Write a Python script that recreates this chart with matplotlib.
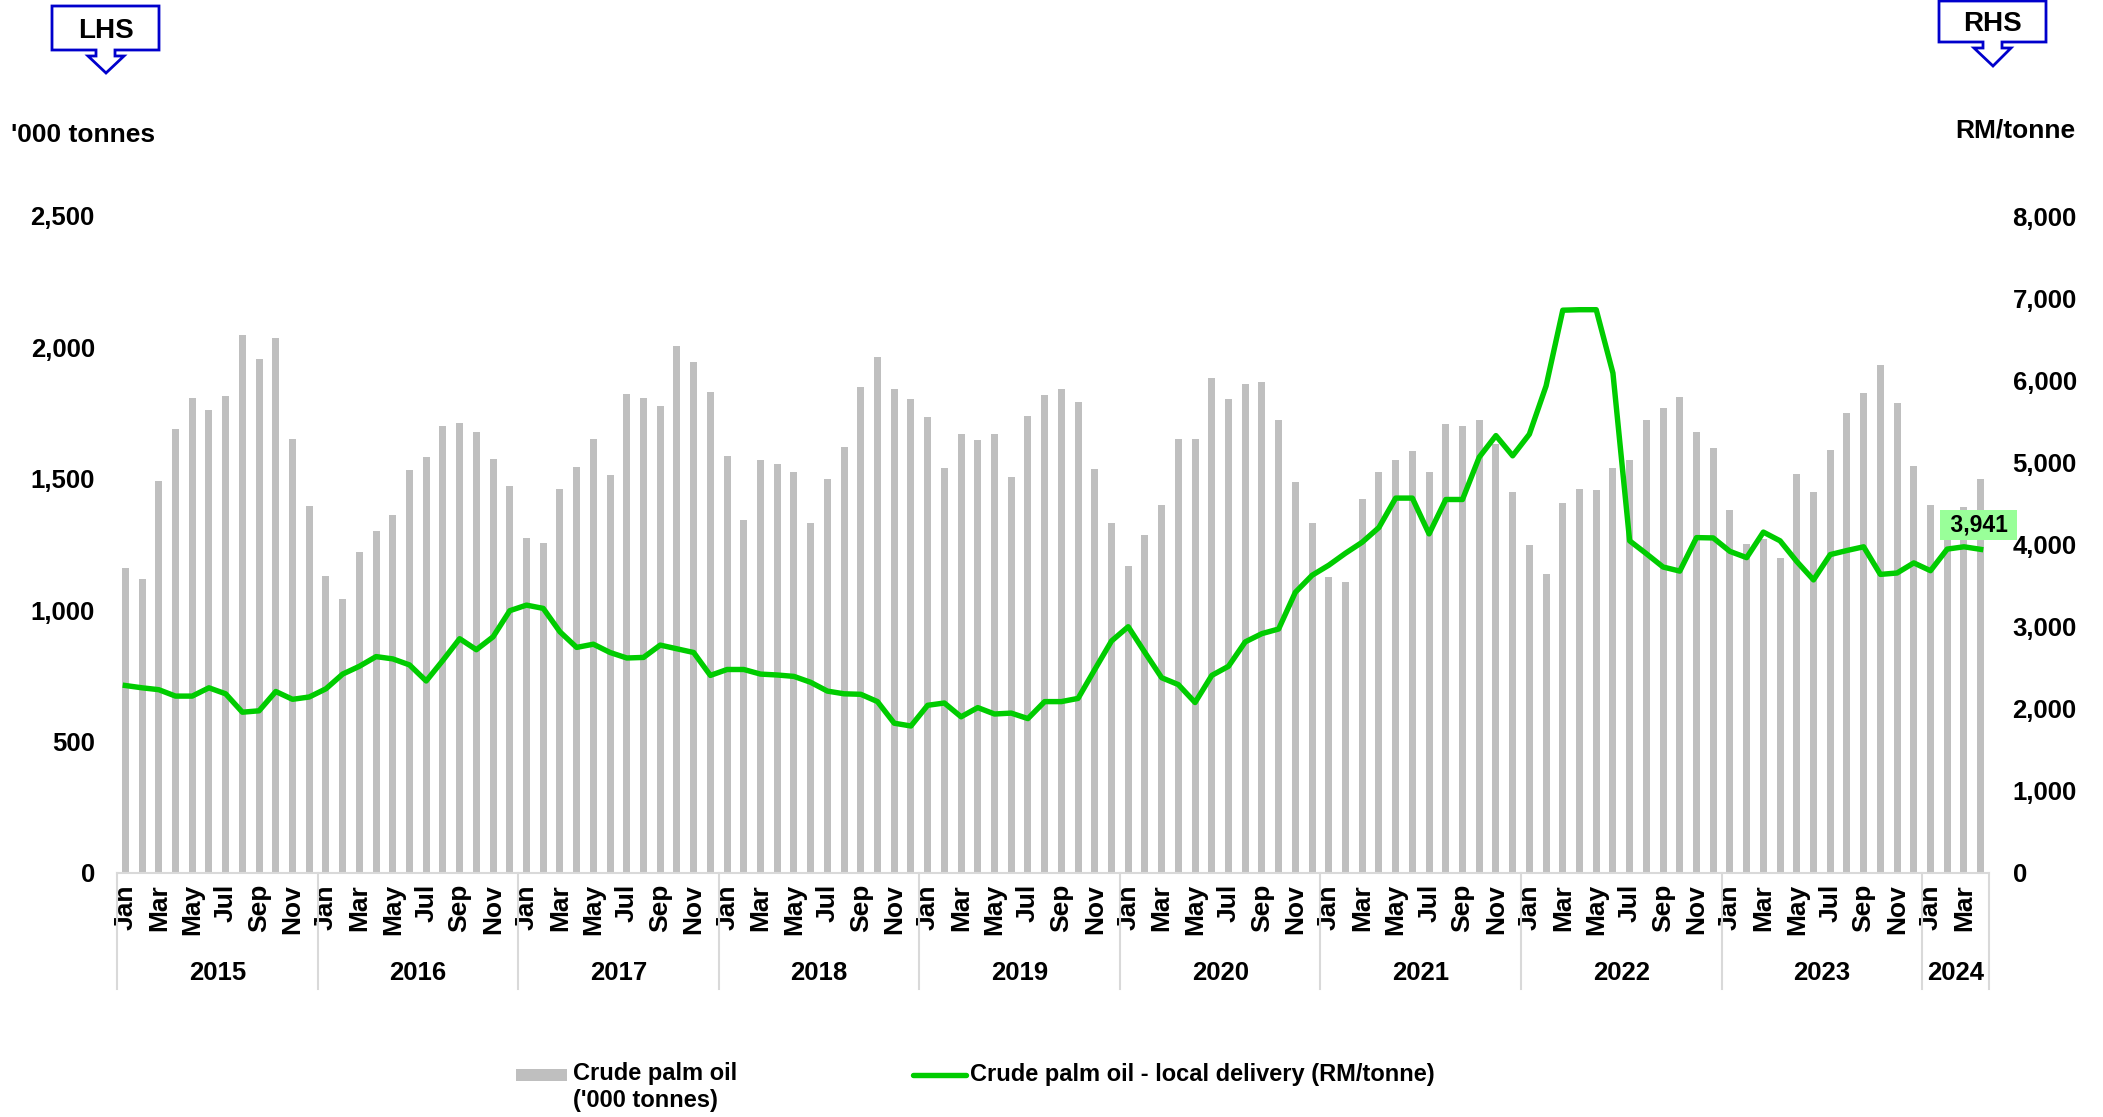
import matplotlib
matplotlib.use("Agg")
import matplotlib.pyplot as plt
import matplotlib.transforms as mtransforms
from matplotlib.patches import Rectangle, Polygon
from matplotlib.lines import Line2D
from matplotlib.ticker import FuncFormatter

plt.rcParams['font.family'] = ['Liberation Sans', 'DejaVu Sans']
plt.rcParams['font.weight'] = 'bold'

# ---------------- data ----------------
years = ['2015', '2016', '2017', '2018', '2019', '2020', '2021', '2022', '2023', '2024']
months = ['Jan', 'Feb', 'Mar', 'Apr', 'May', 'Jun', 'Jul', 'Aug', 'Sep', 'Oct', 'Nov', 'Dec']
months_in_year = [12, 12, 12, 12, 12, 12, 12, 12, 12, 4]

production = [  # '000 tonnes
    1159, 1119, 1493, 1691, 1808, 1763, 1815, 2049, 1957, 2037, 1652, 1397,
    1131, 1044, 1220, 1301, 1364, 1532, 1584, 1700, 1714, 1677, 1574, 1474,
    1276, 1257, 1462, 1546, 1652, 1514, 1824, 1808, 1778, 2007, 1943, 1831,
    1586, 1343, 1572, 1556, 1525, 1332, 1500, 1621, 1850, 1964, 1843, 1805,
    1735, 1542, 1672, 1647, 1672, 1507, 1738, 1820, 1841, 1794, 1537, 1332,
    1170, 1287, 1401, 1651, 1651, 1885, 1805, 1862, 1867, 1724, 1488, 1332,
    1126, 1107, 1422, 1526, 1570, 1605, 1526, 1708, 1701, 1724, 1631, 1448,
    1250, 1137, 1409, 1460, 1458, 1542, 1572, 1724, 1771, 1813, 1679, 1617,
    1380, 1252, 1270, 1198, 1518, 1448, 1609, 1752, 1827, 1934, 1787, 1549,
    1401, 1270, 1394, 1500,
]

price = [  # RM/tonne
    2283, 2255, 2232, 2154, 2154, 2255, 2182, 1958, 1975, 2210, 2115, 2143,
    2243, 2422, 2517, 2635, 2607, 2534, 2338, 2590, 2853, 2719, 2876, 3194,
    3262, 3222, 2937, 2747, 2786, 2685, 2618, 2625, 2775, 2730, 2685, 2406,
    2478, 2478, 2422, 2411, 2394, 2322, 2215, 2182, 2176, 2087, 1824, 1790,
    2042, 2070, 1902, 2014, 1936, 1947, 1880, 2087, 2087, 2126, 2478, 2825,
    2999, 2685, 2378, 2294, 2076, 2406, 2517, 2814, 2915, 2971, 3418, 3625,
    3748, 3894, 4028, 4207, 4565, 4565, 4129, 4548, 4548, 5063, 5326, 5080,
    5343, 5930, 6853, 6859, 6859, 6087, 4045, 3888, 3726, 3676, 4084, 4080,
    3916, 3840, 4151, 4045, 3793, 3569, 3877, 3927, 3972, 3636, 3653, 3776,
    3681, 3944, 3972, 3941,
]

bar_label = 'Crude palm oil\n(\'000 tonnes)'
line_label = 'Crude palm oil - local delivery (RM/tonne)'
last_label = '3,941'

# ---------------- figure ----------------
W, H = 2103, 1117
fig = plt.figure(figsize=(W / 100, H / 100), dpi=100)
ax = fig.add_axes([117 / W, 1 - 873 / H, (1989 - 117) / W, (873 - 216) / H])
ax2 = ax.twinx()

n = len(production)
x = list(range(n))
month_labels = [months[i % 12] for i in range(n)]

BAR_C = '#BFBFBF'
LINE_C = '#00CC00'
GRID_C = '#D9D9D9'
FS = 18.5

ax.bar(x, production, width=0.42, color=BAR_C, zorder=2)
ax2.plot(x, price, color=LINE_C, lw=3.9, solid_joinstyle='round', zorder=3)

ax.set_xlim(-0.5, n - 0.5)
ax.set_ylim(0, 2500)
ax2.set_ylim(0, 8000)
ax.set_yticks([0, 500, 1000, 1500, 2000, 2500])
ax2.set_yticks(list(range(0, 8001, 1000)))
fmt = FuncFormatter(lambda v, p: f'{int(v):,}')
ax.yaxis.set_major_formatter(fmt)
ax2.yaxis.set_major_formatter(fmt)

for a in (ax, ax2):
    for s in a.spines.values():
        s.set_visible(False)
ax.spines['bottom'].set_visible(True)
ax.spines['bottom'].set_color(GRID_C)
ax.spines['bottom'].set_linewidth(1.5)

ax.tick_params(axis='y', length=0, pad=16, labelsize=FS)
ax2.tick_params(axis='y', length=0, pad=17, labelsize=FS)

odd_idx = [i for i in range(n) if i % 2 == 0]
ax.set_xticks(odd_idx)
ax.set_xticklabels([month_labels[i] for i in odd_idx], rotation=90, fontsize=19, fontweight='bold')
ax.tick_params(axis='x', length=0, pad=8)

# year group separators and labels
trans = mtransforms.blended_transform_factory(ax.transData, ax.transAxes)
start = 0
bounds = [-0.5]
for yr, cnt in zip(years, months_in_year):
    end = start + cnt
    ax.text((start + end - 1) / 2, -0.152, yr, transform=trans, ha='center', va='center',
            fontsize=FS, fontweight='bold')
    bounds.append(end - 0.5)
    start = end
for b in bounds:
    ax.plot([b, b], [0, -0.176], transform=trans, color=GRID_C, lw=1.5, clip_on=False)

# last value label
ax2.annotate(' ' + last_label + ' ', xy=(x[-1], price[-1]), xytext=(-2, 24),
             textcoords='offset pixels', ha='center', va='center', fontsize=16.5,
             fontweight='bold',
             bbox=dict(boxstyle='square,pad=0.15', fc='#99FF99', ec='none'), zorder=5)

# axis titles
fig.text(11 / W, 1 - 135 / H, "'000 tonnes", ha='left', va='center', fontsize=19, fontweight='bold')
fig.text(2075 / W, 1 - 130 / H, 'RM/tonne', ha='right', va='center', fontsize=19, fontweight='bold')

# LHS / RHS callouts
def callout(x0, y0, x1, y1, sx0, sx1, hx0, hx1, hy, tip, label, ty):
    pts = [(x0, y0), (x1, y0), (x1, y1), (sx1, y1), (sx1, hy), (hx1, hy), tip,
           (hx0, hy), (sx0, hy), (sx0, y1), (x0, y1)]
    pts = [(px / W, 1 - py / H) for px, py in pts]
    fig.add_artist(Polygon(pts, closed=True, fc='white', ec='#0000CC', lw=2.0,
                           transform=fig.transFigure))
    fig.text((x0 + x1) / 2 / W, 1 - ty / H, label, ha='center', va='center',
             fontsize=20, fontweight='bold')

callout(52, 6, 159, 50, 96, 115, 88, 124, 56, (106, 73), 'LHS', 31)
callout(1939, 1, 2046, 42, 1983, 2002, 1974, 2011, 48, (1993, 66), 'RHS', 24)

# legend (manual)
fig.add_artist(Rectangle((516 / W, 1 - 1081 / H), 51 / W, 12 / H, fc=BAR_C, ec='none',
                         transform=fig.transFigure))
fig.text(573 / W, 1 - 1062 / H, bar_label, ha='left', va='top', fontsize=17,
         fontweight='bold', linespacing=1.2)
fig.add_artist(Line2D([913 / W, 966 / W], [1 - 1075 / H, 1 - 1075 / H], color=LINE_C, lw=3.9,
                      solid_capstyle='round', transform=fig.transFigure))
fig.text(970 / W, 1 - 1075 / H, line_label, ha='left', va='center', fontsize=17, fontweight='bold')

fig.savefig('out.png', dpi=100)
